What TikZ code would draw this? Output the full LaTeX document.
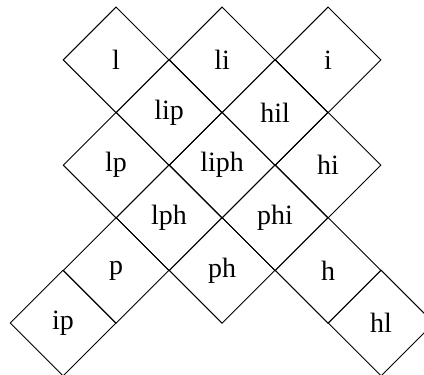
\documentclass[tikz,border=0pt]{standalone}
\usepackage{fontspec}
\setmainfont{Liberation Serif}
\usetikzlibrary{shapes.geometric}
\tikzset{cell/.style={draw,diamond,inner sep=0pt,minimum width=2cm,minimum height=2cm,line width=0.5pt,font=\fontsize{15}{18}\selectfont}}
\begin{document}
\begin{tikzpicture}[scale=1]
	% frame
	\clip (0,0) rectangle (8,-7.075);
	% cells of the cross
	\foreach \cname/\col/\row in {l/1/0,li/3/0,i/5/0,lip/2/1,hil/4/1,lp/1/2,liph/3/2,hi/5/2,lph/2/3,phi/4/3,p/1/4,ph/3/4,h/5/4,ip/0/5,hl/6/5}{
		\node[cell] (\cname) at (1.19+\col,-1.13-0.993*\row) {\cname};
	}
\end{tikzpicture}
\end{document}
